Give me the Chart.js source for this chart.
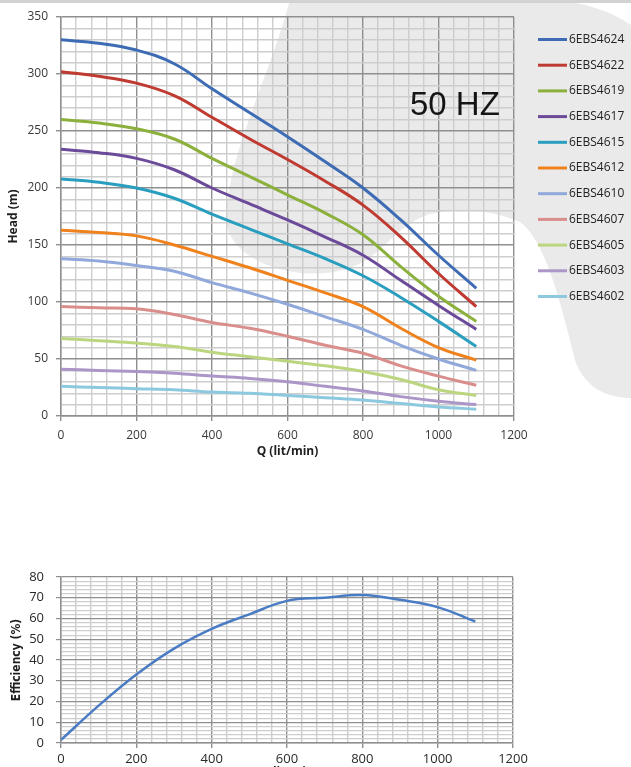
<!DOCTYPE html>
<html>
<head>
<meta charset="utf-8">
<script src="https://cdn.jsdelivr.net/npm/chart.js@4.4.1/dist/chart.umd.min.js"></script>
<style>
  html, body { margin: 0; padding: 0; background: #fff; overflow: hidden; }
  body { width: 631px; height: 767px; position: relative; }
  #headWrap { position: absolute; left: 0; top: 0; }
  #effWrap { position: absolute; left: 0; top: 555px; }
</style>
</head>
<body>
<div id="headWrap"><canvas id="headChart" width="631" height="470"></canvas></div>
<div id="effWrap"><canvas id="effChart" width="631" height="230"></canvas></div>
<script>
// flow points (lit/min)
const flowQ = [0, 100, 200, 300, 400, 500, 600, 700, 800, 900, 1000, 1100];

const models = ['6EBS4624', '6EBS4622', '6EBS4619', '6EBS4617', '6EBS4615', '6EBS4612',
                '6EBS4610', '6EBS4607', '6EBS4605', '6EBS4603', '6EBS4602'];

// head (m) per model
const head4624 = [330, 327, 321, 309, 287, 266, 245, 223, 200, 172, 141, 112];
const head4622 = [302, 298, 292, 281, 262, 243, 225, 206, 185, 157, 125, 96];
const head4619 = [260, 257, 252, 243, 226, 210, 194, 178, 159, 131, 105, 83];
const head4617 = [234, 231, 226, 216, 200, 186, 172, 157, 141, 119, 97, 76];
const head4615 = [208, 205, 200, 191, 177, 164, 151, 138, 123, 104, 83, 61];
const head4612 = [163, 161, 158, 150, 140, 130, 119, 108, 96, 77, 60, 49];
const head4610 = [138, 136, 132, 127, 117, 108, 98, 87, 76, 62, 50, 40];
const head4607 = [96, 95, 94, 89, 82, 77, 70, 62, 55, 44, 35, 27];
const head4605 = [68, 66, 64, 61, 56, 52, 48, 44, 39, 32, 23, 18];
const head4603 = [41, 40, 39, 37.5, 35, 33, 30, 26, 22, 17, 13, 10];
const head4602 = [26, 25, 24, 23, 21, 20, 18, 16, 14, 11, 8, 6];

const heads = [head4624, head4622, head4619, head4617, head4615, head4612,
               head4610, head4607, head4605, head4603, head4602];

const colors = ['#3E6CB4', '#BF3A30', '#8CB03C', '#6C4A9A', '#2A9EBF', '#F0821E',
                '#90A8DA', '#D98E8C', '#BCD57F', '#AC96C8', '#8CC9DF'];

// efficiency (%)
const effQ = [0, 100, 200, 300, 400, 500, 600, 700, 800, 900, 1000, 1100];
const effValues = [1.5, 18, 33, 45.5, 55, 62, 68.5, 70, 71.3, 69, 65.5, 58.5];

const tickFont = { family: 'Open Sans', size: 12 };
const titleFont = { family: 'Open Sans', size: 12, weight: 'bold' };

function gridColor(step) {
  return c => (Math.round(c.tick.value) % step === 0) ? '#8f8f8f' : '#cdcdcd';
}
function tickStub(step) {
  return c => (Math.round(c.tick.value) % step === 0) ? '#8f8f8f' : 'rgba(0,0,0,0)';
}

// soft grey swirl behind the top chart
const backdrop = {
  id: 'backdrop',
  beforeDraw(chart) {
    const g = chart.ctx;
    g.save();
    g.fillStyle = '#eaeaea';
    g.beginPath();
    g.moveTo(290, 0);
    g.bezierCurveTo(268, 80, 230, 150, 226, 215);
    g.bezierCurveTo(224, 262, 300, 285, 350, 268);
    g.bezierCurveTo(385, 255, 395, 225, 430, 214);
    g.bezierCurveTo(470, 205, 505, 215, 520, 222);
    g.bezierCurveTo(545, 240, 560, 300, 575, 360);
    g.bezierCurveTo(585, 390, 610, 398, 631, 398);
    g.lineTo(631, 25);
    g.bezierCurveTo(610, 10, 580, 2, 555, 0);
    g.closePath();
    g.fill();
    g.fillStyle = '#d2d2d2';
    g.fillRect(0, 0, 631, 3);
    g.restore();
  }
};

const sideLegend = {
  id: 'sideLegend',
  afterDraw(chart) {
    const g = chart.ctx;
    g.save();
    chart.data.datasets.forEach((ds, i) => {
      const y = 39.5 + i * 25.7;
      g.strokeStyle = ds.borderColor;
      g.lineWidth = 3;
      g.beginPath();
      g.moveTo(538, y);
      g.lineTo(567, y);
      g.stroke();
      g.fillStyle = '#222';
      g.font = '12px "Open Sans"';
      g.textBaseline = 'middle';
      g.fillText(ds.label, 569, y);
    });
    g.fillStyle = '#141414';
    g.font = '33px "Liberation Sans"';
    g.textBaseline = 'alphabetic';
    g.fillText('50 HZ', 410, 115);
    g.restore();
  }
};

new Chart(document.getElementById('headChart'), {
  type: 'line',
  data: {
    datasets: models.map((m, i) => ({
      label: m,
      data: flowQ.map((q, j) => ({ x: q, y: heads[i][j] })),
      borderColor: colors[i],
      borderWidth: 3,
      pointRadius: 0,
      tension: 0.4,
      fill: false
    }))
  },
  options: {
    responsive: false,
    animation: false,
    layout: { padding: { top: 17, right: 117, left: 0, bottom: 0 } },
    plugins: { legend: { display: false }, tooltip: { enabled: false } },
    scales: {
      x: {
        type: 'linear', min: 0, max: 1200,
        ticks: { stepSize: 40, autoSkip: false, maxRotation: 0, padding: 7, color: '#3a3a3a', font: tickFont,
                 callback: v => (v % 200 === 0 ? v : '') },
        grid: { color: gridColor(200), lineWidth: 1.4, tickLength: 5, tickColor: tickStub(200) },
        border: { color: '#8f8f8f', width: 1.4 },
        title: { display: true, text: 'Q (lit/min)', color: '#1e1e1e', font: titleFont, padding: { top: 0, bottom: 11 } },
        afterFit: s => { s.height = 54; }
      },
      y: {
        min: 0, max: 350,
        ticks: { stepSize: 10, autoSkip: false, padding: 8, color: '#3a3a3a', font: tickFont,
                 callback: v => (v % 50 === 0 ? v : '') },
        grid: { color: gridColor(50), lineWidth: 1.4, tickLength: 5, tickColor: tickStub(50) },
        border: { color: '#8f8f8f', width: 1.4 },
        title: { display: true, text: 'Head (m)', color: '#1e1e1e', font: titleFont, padding: { top: 6, bottom: 0 } },
        afterFit: s => { s.width = 61; }
      }
    }
  },
  plugins: [backdrop, sideLegend]
});

new Chart(document.getElementById('effChart'), {
  type: 'line',
  data: {
    datasets: [{
      label: 'Efficiency',
      data: effQ.map((q, j) => ({ x: q, y: effValues[j] })),
      borderColor: '#4A7CC4',
      borderWidth: 2.5,
      pointRadius: 0,
      tension: 0.4,
      fill: false
    }]
  },
  options: {
    responsive: false,
    animation: false,
    layout: { padding: { top: 22, right: 118, left: 0, bottom: 0 } },
    plugins: { legend: { display: false }, tooltip: { enabled: false } },
    scales: {
      x: {
        type: 'linear', min: 0, max: 1200,
        ticks: { stepSize: 40, autoSkip: false, maxRotation: 0, padding: 3, color: '#2a2a2a', font: { family: 'Open Sans', size: 13 },
                 callback: v => (v % 200 === 0 ? v : '') },
        grid: { color: gridColor(200), lineWidth: 1.4, tickLength: 5, tickColor: tickStub(200) },
        border: { color: '#8f8f8f', width: 1.4 },
        title: { display: true, text: 'Q (lit/min)', color: '#1e1e1e', font: titleFont, padding: { top: 0, bottom: 5 } },
        afterFit: s => { s.height = 42; }
      },
      y: {
        min: 0, max: 80,
        ticks: { stepSize: 2, autoSkip: false, padding: 12, color: '#2a2a2a', font: { family: 'Open Sans', size: 13 },
                 callback: v => (v % 10 === 0 ? v : '') },
        grid: { color: gridColor(10), lineWidth: 1.2, tickLength: 5, tickColor: tickStub(10) },
        border: { color: '#8f8f8f', width: 1.4 },
        title: { display: true, text: 'Efficiency (%)', color: '#1e1e1e',
                 font: { family: '"Liberation Sans Narrow", "DejaVu Sans Condensed", sans-serif', size: 12, weight: 'bold' },
                 padding: { top: 10, bottom: 0 } },
        afterFit: s => { s.width = 61; }
      }
    }
  }
});
</script>
</body>
</html>
